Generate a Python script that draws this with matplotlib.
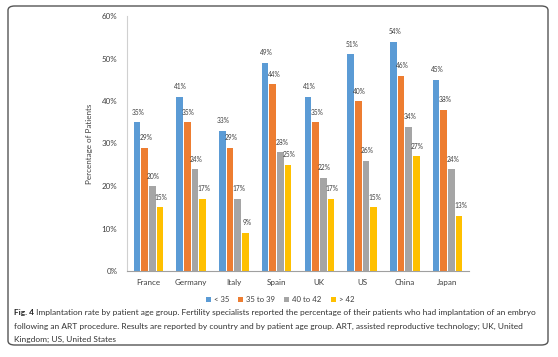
import matplotlib
matplotlib.use("Agg")
import matplotlib.pyplot as plt
import numpy as np
from matplotlib.patches import FancyBboxPatch

countries = ["France", "Germany", "Italy", "Spain", "UK", "US", "China", "Japan"]
series_names = ["< 35", "35 to 39", "40 to 42", "> 42"]
lt35 = [35, 41, 33, 49, 41, 51, 54, 45]
a35_39 = [29, 35, 29, 44, 35, 40, 46, 38]
a40_42 = [20, 24, 17, 28, 22, 26, 34, 24]
gt42 = [15, 17, 9, 25, 17, 15, 27, 13]
yticks = [0, 10, 20, 30, 40, 50, 60]
colors = ["#5B9BD5", "#ED7D31", "#A5A5A5", "#FFC000"]

plt.rcParams['font.family'] = ['Lato', 'DejaVu Sans']

W, H = 558, 357
fig = plt.figure(figsize=(W / 100, H / 100), dpi=100)

# border
box = FancyBboxPatch((8 / W, 1 - 345 / H), 540 / W, 339 / H,
                     boxstyle="round,pad=0,rounding_size=0.012",
                     transform=fig.transFigure, facecolor="none",
                     edgecolor="#555555", linewidth=1.0, zorder=-1)
fig.patches.append(box)

ax = fig.add_axes([127 / W, 1 - 271 / H, (469 - 127) / W, (271 - 16) / H])
ax.set_facecolor("none")

x = np.arange(len(countries))
data = [lt35, a35_39, a40_42, gt42]
bw = 0.155
pitch = 0.18
for i, (vals, c, name) in enumerate(zip(data, colors, series_names)):
    off = (i - 1.5) * pitch
    ax.bar(x + off, vals, width=bw, color=c, label=name, zorder=2)
    for xi, v in zip(x + off, vals):
        ax.text(xi + 0.03, v + 1.5, f"{v}%", ha="center", va="bottom",
                fontsize=4.8, color="#404040")

ax.set_xlim(-0.5, len(countries) - 0.5)
ax.set_ylim(0, 60)
ax.set_yticks(yticks)
ax.set_yticklabels([f"{t}%" for t in yticks], fontsize=5.8, color="#404040")
ax.set_xticks(x)
ax.set_xticklabels(countries, fontsize=5.8, color="#404040")
ax.tick_params(axis="y", length=0, pad=7)
ax.tick_params(axis="x", length=0, pad=6)
for s in ["top", "right"]:
    ax.spines[s].set_visible(False)
ax.spines["left"].set_color("#D0D0D0")
ax.spines["left"].set_linewidth(0.8)
ax.spines["bottom"].set_color("#A0A0A0")
ax.spines["bottom"].set_linewidth(0.8)
ax.set_ylabel("Percentage of Patients", fontsize=5.8, color="#404040", labelpad=6)

leg = fig.legend(loc="center", bbox_to_anchor=(280 / W, 1 - 300 / H),
                 ncol=4, frameon=False, fontsize=5.6, handlelength=0.6,
                 handleheight=0.6, handletextpad=0.4, columnspacing=1.2,
                 labelcolor="#404040")

# caption
lines = [
    " Implantation rate by patient age group. Fertility specialists reported the percentage of their patients who had implantation of an embryo",
    "following an ART procedure. Results are reported by country and by patient age group. ART, assisted reproductive technology; UK, United",
    "Kingdom; US, United States",
]
cap_fs = 6.05
cap_color = "#333333"
ys = [313, 326, 339]
t0 = fig.text(14 / W, 1 - ys[0] / H, "Fig. 4", fontsize=cap_fs, fontweight="bold",
              color="#222222", va="center", ha="left")
fig.canvas.draw()
bb = t0.get_window_extent(renderer=fig.canvas.get_renderer())
fig.text(bb.x1 / W, 1 - ys[0] / H, lines[0], fontsize=cap_fs, color=cap_color,
         va="center", ha="left")
for ln, yy in zip(lines[1:], ys[1:]):
    fig.text(14 / W, 1 - yy / H, ln, fontsize=cap_fs, color=cap_color,
             va="center", ha="left")

fig.savefig("out.png", dpi=100)
